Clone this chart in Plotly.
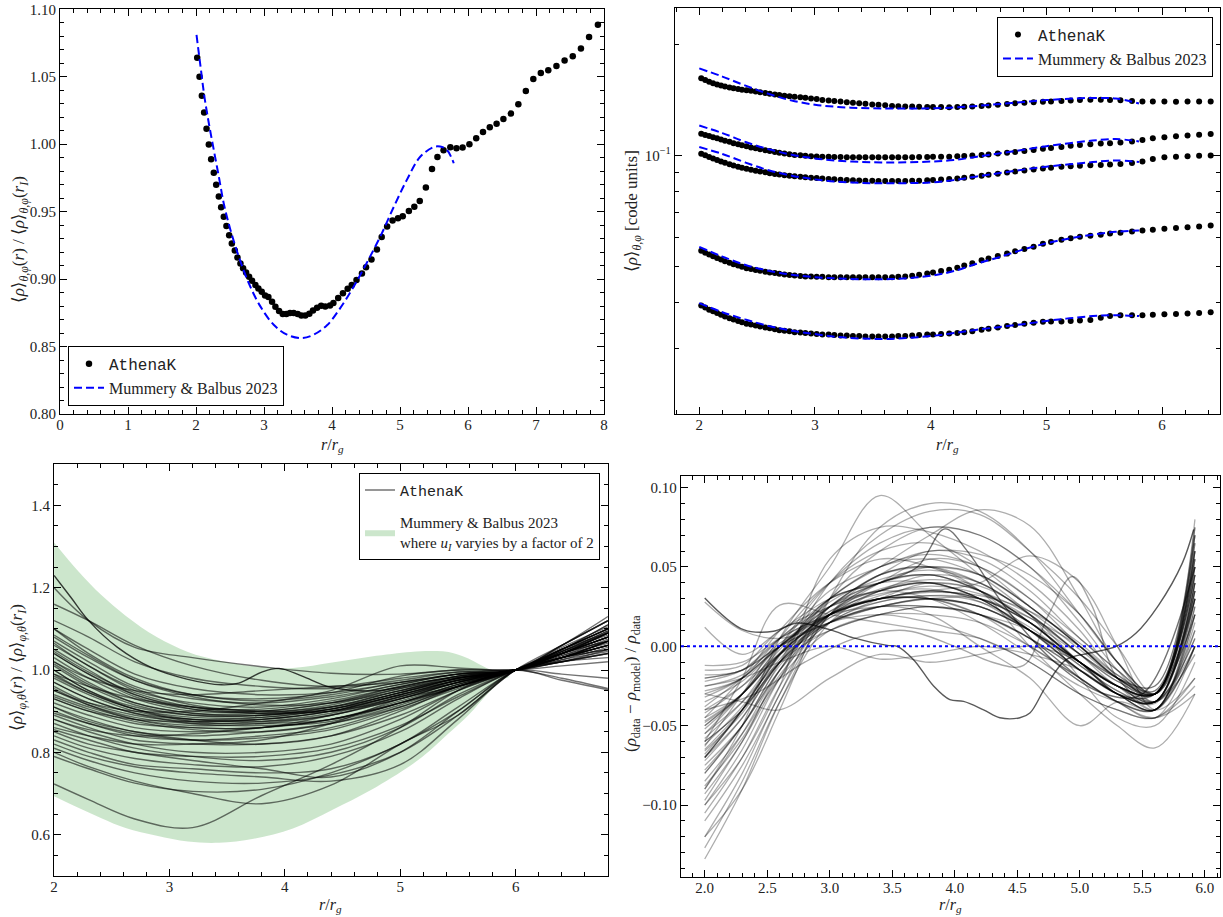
import plotly.graph_objects as go

SERIF = "Liberation Serif, DejaVu Serif, serif"
TXT = "#222222"

# ---------------- Panel (a): normalised radial density profile ----------------
R_DATA = [2.017, 2.051, 2.085, 2.119, 2.154, 2.188, 2.222, 2.261, 2.296, 2.335,
          2.369, 2.408, 2.447, 2.487, 2.526, 2.570, 2.609, 2.653, 2.692, 2.736,
          2.780, 2.824, 2.873, 2.917, 2.966, 3.015, 3.064, 3.118, 3.167, 3.221,
          3.275, 3.328, 3.382, 3.436, 3.495, 3.549, 3.607, 3.666, 3.72, 3.78,
          3.84, 3.90, 3.97, 4.02, 4.09, 4.16, 4.23, 4.29, 4.36, 4.44,
          4.50, 4.58, 4.66, 4.73, 4.81, 4.89, 4.97, 5.04, 5.13, 5.21,
          5.29, 5.38, 5.47, 5.55, 5.64, 5.74, 5.83, 5.92, 6.02, 6.12,
          6.22, 6.32, 6.42, 6.52, 6.63, 6.74, 6.85, 6.96, 7.07, 7.18,
          7.30, 7.42, 7.54, 7.66, 7.78, 7.91]
RHO_NORM = [1.0642, 1.0501, 1.0360, 1.0235, 1.0114, 0.9998, 0.9889, 0.9788, 0.9699, 0.9612,
            0.9533, 0.9462, 0.9393, 0.9326, 0.9264, 0.9212, 0.9160, 0.9116, 0.9081, 0.9049,
            0.9017, 0.8988, 0.8956, 0.8931, 0.8906, 0.8879, 0.8867, 0.8832, 0.8795, 0.8763,
            0.8741, 0.8741, 0.8748, 0.8748, 0.8741, 0.8731, 0.8731, 0.8743, 0.8768, 0.8788,
            0.8802, 0.8798, 0.8805, 0.8823, 0.8860, 0.8896, 0.8928, 0.8956, 0.8993, 0.9042,
            0.9089, 0.9146, 0.9220, 0.9312, 0.9390, 0.9435, 0.9452, 0.9467, 0.9506, 0.9536,
            0.9580, 0.9679, 0.9817, 0.9906, 0.9956, 0.9978, 0.9970, 0.9975, 1.0000, 1.0044,
            1.0091, 1.0126, 1.0151, 1.0188, 1.0227, 1.0296, 1.0395, 1.0484, 1.0528, 1.0548,
            1.0580, 1.0620, 1.0652, 1.0709, 1.0795, 1.0886]
R_MODEL = [2.007, 2.066, 2.124, 2.188, 2.26, 2.335, 2.408, 2.506, 2.628, 2.775,
           2.946, 3.142, 3.338, 3.558, 3.73, 3.93, 4.12, 4.32, 4.51, 4.71,
           4.91, 5.10, 5.30, 5.50, 5.59, 5.69, 5.79]
RHO_MODEL_NORM = [1.081, 1.0575, 1.035, 1.0156, 0.996, 0.976, 0.956, 0.9365, 0.9168, 0.897,
                  0.8798, 0.8662, 0.8588, 0.8563, 0.8588, 0.866, 0.8785, 0.8946, 0.912, 0.9316,
                  0.9538, 0.9736, 0.9909, 0.998, 0.9983, 0.9958, 0.9859]

# ---------------- Panel (b): absolute density profiles (log) ----------------
N_B = 73  # dots shown up to r = 6.42
RHO_B1 = [0.1618, 0.1600, 0.1583, 0.1568, 0.1556, 0.1546, 0.1537, 0.1528, 0.1520, 0.1512,
          0.1506, 0.1501, 0.1496, 0.1490, 0.1483, 0.1475, 0.1468, 0.1462, 0.1457, 0.1452,
          0.1447, 0.1443, 0.1438, 0.1433, 0.1427, 0.1421, 0.1414, 0.1409, 0.1404, 0.1399,
          0.1394, 0.1389, 0.1384, 0.1380, 0.1375, 0.1371, 0.1367, 0.1362, 0.1359, 0.1357,
          0.1356, 0.1355, 0.1353, 0.1353, 0.1352, 0.1351, 0.1352, 0.1354, 0.1357, 0.1361,
          0.1365, 0.1371, 0.1378, 0.1384, 0.1389, 0.1393, 0.1397, 0.1400, 0.1405, 0.1409,
          0.1413, 0.1415, 0.1415, 0.1414, 0.1410, 0.1404, 0.1400, 0.1399, 0.1399, 0.1398,
          0.1399, 0.1399, 0.1399]
RHO_B2 = [0.1145, 0.1137, 0.1129, 0.1121, 0.1113, 0.1105, 0.1097, 0.1089, 0.1080, 0.1073,
          0.1066, 0.1059, 0.1052, 0.1046, 0.1040, 0.1034, 0.1028, 0.1022, 0.1017, 0.1012,
          0.1008, 0.1004, 0.1001, 0.0998, 0.0996, 0.0994, 0.0993, 0.0992, 0.0991, 0.0991,
          0.0990, 0.0990, 0.0990, 0.0990, 0.0990, 0.0990, 0.0990, 0.0990, 0.0990, 0.0990,
          0.0990, 0.0991, 0.0991, 0.0992, 0.0992, 0.0993, 0.0995, 0.0997, 0.1000, 0.1004,
          0.1007, 0.1012, 0.1017, 0.1022, 0.1028, 0.1035, 0.1043, 0.1048, 0.1055, 0.1062,
          0.1068, 0.1072, 0.1077, 0.1080, 0.1085, 0.1092, 0.1102, 0.1113, 0.1121, 0.1127,
          0.1132, 0.1138, 0.1143]
RHO_B3 = [0.1011, 0.1001, 0.0991, 0.0982, 0.0973, 0.0964, 0.0956, 0.0947, 0.0940, 0.0933,
          0.0927, 0.0921, 0.0915, 0.0910, 0.0906, 0.0901, 0.0896, 0.0892, 0.0888, 0.0885,
          0.0882, 0.0879, 0.0876, 0.0873, 0.0871, 0.0869, 0.0867, 0.0864, 0.0862, 0.0860,
          0.0859, 0.0857, 0.0856, 0.0855, 0.0854, 0.0853, 0.0853, 0.0853, 0.0853, 0.0853,
          0.0854, 0.0855, 0.0857, 0.0859, 0.0861, 0.0864, 0.0867, 0.0871, 0.0876, 0.0882,
          0.0887, 0.0893, 0.0899, 0.0905, 0.0911, 0.0917, 0.0923, 0.0927, 0.0932, 0.0936,
          0.0939, 0.0941, 0.0943, 0.0945, 0.0948, 0.0954, 0.0963, 0.0979, 0.0989, 0.0993,
          0.0996, 0.0998, 0.1000]
RHO_B4 = [0.0553, 0.0546, 0.0540, 0.0534, 0.0528, 0.0523, 0.0518, 0.0513, 0.0508, 0.0504,
          0.0500, 0.0496, 0.0493, 0.0490, 0.0488, 0.0485, 0.0483, 0.0481, 0.0479, 0.0477,
          0.0475, 0.0474, 0.0472, 0.0471, 0.0471, 0.0470, 0.0470, 0.0469, 0.0469, 0.0469,
          0.0469, 0.0469, 0.0469, 0.0469, 0.0469, 0.0469, 0.0469, 0.0469, 0.0470, 0.0471,
          0.0473, 0.0476, 0.0480, 0.0483, 0.0487, 0.0491, 0.0497, 0.0504, 0.0511, 0.0521,
          0.0527, 0.0535, 0.0543, 0.0551, 0.0559, 0.0567, 0.0577, 0.0584, 0.0592, 0.0597,
          0.0603, 0.0607, 0.0611, 0.0615, 0.0618, 0.0623, 0.0627, 0.0630, 0.0634, 0.0637,
          0.0640, 0.0643, 0.0647]
RHO_B5 = [0.0393, 0.0388, 0.0383, 0.0379, 0.0375, 0.0371, 0.0367, 0.0363, 0.0360, 0.0357,
          0.0354, 0.0351, 0.0349, 0.0347, 0.0345, 0.0343, 0.0341, 0.0339, 0.0337, 0.0336,
          0.0335, 0.0333, 0.0332, 0.0331, 0.0330, 0.0329, 0.0328, 0.0328, 0.0327, 0.0326,
          0.0326, 0.0325, 0.0325, 0.0324, 0.0324, 0.0324, 0.0324, 0.0324, 0.0325, 0.0325,
          0.0326, 0.0327, 0.0328, 0.0328, 0.0329, 0.0330, 0.0331, 0.0333, 0.0335, 0.0338,
          0.0340, 0.0343, 0.0346, 0.0348, 0.0351, 0.0353, 0.0355, 0.0356, 0.0356, 0.0357,
          0.0358, 0.0359, 0.0364, 0.0368, 0.0370, 0.0370, 0.0370, 0.0371, 0.0372, 0.0373,
          0.0374, 0.0375, 0.0377]
MODEL_X = [2.0, 2.2, 2.4, 2.6, 2.8, 3.0, 3.2, 3.4, 3.6, 3.8,
           4.0, 4.2, 4.4, 4.6, 4.8, 5.0, 5.2, 5.4, 5.6, 5.8]
MODEL_B1 = [0.172, 0.1635, 0.1545, 0.1468, 0.1408, 0.1372, 0.1353, 0.1344, 0.1340, 0.1340,
            0.1342, 0.1348, 0.1362, 0.1378, 0.1395, 0.1412, 0.1424, 0.1431, 0.1426, 0.1383]
MODEL_B2 = [0.1205, 0.1150, 0.1088, 0.1040, 0.1005, 0.0982, 0.0968, 0.0961, 0.0958, 0.0959,
            0.0963, 0.0972, 0.0993, 0.1014, 0.1036, 0.1060, 0.1080, 0.1098, 0.1108, 0.1092]
MODEL_B3 = [0.1054, 0.1010, 0.0957, 0.0912, 0.0882, 0.0862, 0.0849, 0.0843, 0.0841, 0.0842,
            0.0845, 0.0858, 0.0878, 0.0897, 0.0916, 0.0933, 0.0947, 0.0960, 0.0970, 0.0960]
MODEL_B4 = [0.0566, 0.0533, 0.0506, 0.0488, 0.0476, 0.0469, 0.0465, 0.0463, 0.0463, 0.0466,
            0.0473, 0.0487, 0.0510, 0.0532, 0.0557, 0.0579, 0.0597, 0.0611, 0.0622, 0.0627]
MODEL_B5 = [0.0399, 0.0377, 0.0360, 0.0346, 0.0336, 0.0329, 0.0323, 0.0320, 0.0319, 0.0321,
            0.0325, 0.0331, 0.0338, 0.0344, 0.0350, 0.0357, 0.0363, 0.0368, 0.0370, 0.0368]
LOG_MINOR = [0.02, 0.03, 0.04, 0.05, 0.06, 0.07, 0.08, 0.09, 0.2]

# ---------------- Panel (c): many snapshots normalised at r_I ----------------
BAND_X = [2.0, 2.21, 2.41, 2.62, 2.89, 3.16, 3.43, 3.73, 4.07, 4.41,
          4.75, 5.09, 5.26, 5.42, 5.59, 5.76, 5.90, 5.95]
BAND_UPPER = [1.310, 1.240, 1.182, 1.132, 1.080, 1.044, 1.023, 1.009, 1.005, 1.018,
              1.033, 1.044, 1.046, 1.044, 1.028, 1.003, 0.988, 0.983]
BAND_LOWER = [0.693, 0.665, 0.640, 0.616, 0.597, 0.583, 0.580, 0.590, 0.615, 0.660,
              0.709, 0.768, 0.805, 0.846, 0.890, 0.943, 0.978, 0.983]
BL_X = [2.0, 2.3, 2.7, 3.2, 3.8, 4.4, 5.0, 5.5, 6.0, 6.4, 6.8]
BL_CURVES = [
    [0.723, 0.685, 0.638, 0.617, 0.695, 0.770, 0.860, 0.950, 1.0, 0.975, 0.952],
    [0.790, 0.760, 0.725, 0.705, 0.710, 0.750, 0.820, 0.900, 1.0, 1.020, 1.040],
    [0.800, 0.765, 0.730, 0.700, 0.675, 0.720, 0.820, 0.890, 1.0, 1.030, 1.060],
    [0.830, 0.800, 0.770, 0.760, 0.750, 0.760, 0.820, 0.910, 1.0, 1.040, 1.080],
    [0.840, 0.810, 0.785, 0.770, 0.765, 0.790, 0.850, 0.930, 1.0, 1.030, 1.070],
    [0.850, 0.820, 0.800, 0.780, 0.760, 0.740, 0.800, 0.900, 1.0, 1.050, 1.100],
    [0.870, 0.840, 0.810, 0.790, 0.780, 0.800, 0.860, 0.940, 1.0, 1.040, 1.090],
    [0.880, 0.850, 0.820, 0.800, 0.800, 0.820, 0.880, 0.950, 1.0, 1.030, 1.060],
    [0.890, 0.860, 0.830, 0.820, 0.820, 0.840, 0.890, 0.950, 1.0, 1.040, 1.080],
    [0.900, 0.870, 0.840, 0.830, 0.840, 0.860, 0.910, 0.960, 1.0, 1.020, 1.050],
    [0.910, 0.880, 0.850, 0.840, 0.850, 0.870, 0.910, 0.960, 1.0, 1.040, 1.080],
    [0.920, 0.890, 0.860, 0.850, 0.860, 0.880, 0.920, 0.960, 1.0, 1.030, 1.070],
    [0.930, 0.900, 0.870, 0.860, 0.860, 0.890, 0.930, 0.970, 1.0, 1.030, 1.060],
    [0.940, 0.910, 0.880, 0.865, 0.870, 0.890, 0.930, 0.970, 1.0, 1.040, 1.090],
    [0.950, 0.915, 0.885, 0.870, 0.875, 0.895, 0.935, 0.970, 1.0, 1.030, 1.050],
    [0.960, 0.920, 0.890, 0.875, 0.880, 0.900, 0.940, 0.975, 1.0, 1.040, 1.080],
    [0.970, 0.930, 0.895, 0.880, 0.880, 0.900, 0.940, 0.975, 1.0, 1.030, 1.060],
    [0.980, 0.940, 0.900, 0.880, 0.885, 0.905, 0.945, 0.975, 1.0, 1.020, 1.040],
    [0.990, 0.945, 0.905, 0.885, 0.885, 0.905, 0.945, 0.980, 1.0, 1.040, 1.090],
    [1.000, 0.950, 0.910, 0.890, 0.890, 0.910, 0.950, 0.980, 1.0, 1.030, 1.070],
    [1.010, 0.960, 0.915, 0.890, 0.890, 0.910, 0.950, 0.980, 1.0, 1.050, 1.110],
    [1.020, 0.970, 0.920, 0.895, 0.895, 0.915, 0.955, 0.980, 1.0, 1.040, 1.080],
    [1.030, 0.980, 0.930, 0.900, 0.900, 0.920, 0.955, 0.985, 1.0, 1.030, 1.060],
    [1.040, 0.990, 0.935, 0.905, 0.900, 0.920, 0.960, 0.985, 1.0, 1.050, 1.100],
    [1.050, 1.000, 0.940, 0.910, 0.905, 0.925, 0.960, 0.985, 1.0, 1.040, 1.070],
    [1.060, 1.010, 0.950, 0.920, 0.910, 0.930, 0.965, 0.990, 1.0, 1.060, 1.120],
    [1.070, 1.020, 0.960, 0.930, 0.920, 0.935, 0.965, 0.990, 1.0, 1.030, 1.050],
    [1.080, 1.030, 0.975, 0.940, 0.925, 0.940, 0.970, 0.990, 1.0, 1.050, 1.090],
    [1.100, 1.050, 0.990, 0.955, 0.940, 0.945, 0.970, 0.990, 1.0, 1.040, 1.070],
    [1.120, 1.080, 1.020, 0.980, 0.960, 0.955, 0.975, 0.995, 1.0, 1.060, 1.130],
    [1.160, 1.120, 1.060, 1.010, 0.975, 0.960, 0.980, 0.995, 1.0, 1.050, 1.100],
    [1.200, 1.120, 1.055, 1.030, 1.008, 0.992, 0.990, 1.000, 1.0, 1.020, 1.040],
    [0.950, 0.920, 0.900, 0.900, 0.920, 0.950, 1.010, 1.005, 1.0, 1.020, 1.030],
    [0.860, 0.840, 0.820, 0.820, 0.830, 0.870, 0.930, 0.960, 1.0, 1.050, 1.100],
    [0.990, 0.960, 0.930, 0.910, 0.900, 0.900, 0.930, 0.970, 1.0, 0.990, 0.980],
    [0.930, 0.900, 0.880, 0.875, 0.880, 0.900, 0.940, 0.970, 1.0, 1.060, 1.120],
    [1.040, 0.990, 0.940, 0.905, 0.895, 0.905, 0.940, 0.975, 1.0, 1.045, 1.090],
    [0.970, 0.930, 0.895, 0.870, 0.865, 0.875, 0.920, 0.965, 1.0, 1.050, 1.100],
    [1.000, 0.950, 0.905, 0.875, 0.870, 0.880, 0.920, 0.965, 1.0, 1.040, 1.080],
    [0.910, 0.875, 0.850, 0.830, 0.820, 0.840, 0.900, 0.960, 1.0, 1.030, 1.070],
    [0.820, 0.790, 0.765, 0.750, 0.740, 0.730, 0.770, 0.880, 1.0, 1.040, 1.090],
    [1.100, 1.040, 0.980, 0.940, 0.930, 0.945, 0.985, 1.000, 1.0, 1.010, 1.020],
    [1.020, 0.980, 0.950, 0.940, 0.950, 0.960, 0.970, 0.990, 1.0, 0.980, 0.955],
    [0.880, 0.855, 0.840, 0.845, 0.860, 0.880, 0.920, 0.960, 1.0, 1.050, 1.110],
    [0.955, 0.915, 0.880, 0.860, 0.860, 0.880, 0.925, 0.965, 1.0, 1.035, 1.075],
    [1.015, 0.965, 0.920, 0.895, 0.890, 0.905, 0.945, 0.980, 1.0, 1.045, 1.095],
    [0.935, 0.905, 0.875, 0.855, 0.850, 0.870, 0.915, 0.960, 1.0, 1.025, 1.055],
    [1.065, 1.010, 0.955, 0.915, 0.900, 0.910, 0.945, 0.980, 1.0, 1.055, 1.105],
    [0.985, 0.945, 0.905, 0.880, 0.875, 0.890, 0.935, 0.970, 1.0, 1.035, 1.065],
    [0.895, 0.870, 0.845, 0.830, 0.835, 0.855, 0.905, 0.955, 1.0, 1.045, 1.095],
    [1.045, 0.995, 0.945, 0.910, 0.895, 0.900, 0.935, 0.975, 1.0, 1.025, 1.045],
    [0.810, 0.780, 0.750, 0.730, 0.725, 0.745, 0.800, 0.890, 1.0, 1.060, 1.120],
    [0.855, 0.830, 0.800, 0.790, 0.790, 0.810, 0.865, 0.935, 1.0, 1.040, 1.080],
    [1.085, 1.035, 0.975, 0.935, 0.915, 0.920, 0.950, 0.985, 1.0, 1.045, 1.085],
]
BL_BUMP_X = [2.0, 2.15, 2.3, 2.55, 2.85, 3.15, 3.45, 3.6, 3.8, 3.95,
             4.15, 4.4, 4.8, 5.3, 6.0, 6.4, 6.8]
BL_BUMP_Y = [1.23, 1.175, 1.12, 1.055, 1.005, 0.978, 0.964, 0.968, 0.995, 1.004,
             0.985, 0.958, 0.95, 0.975, 1.0, 1.03, 1.06]

# ---------------- Panel (d): relative residuals ----------------
BR_X = [2.0, 2.3, 2.6, 3.0, 3.4, 3.8, 4.2, 4.6, 5.0, 5.3, 5.6, 5.92]
BR_CURVES = [
    [-0.090, -0.050, 0.005, 0.050, 0.095, 0.070, 0.045, 0.020, -0.020, -0.045, -0.050, -0.010],
    [-0.120, -0.090, -0.040, 0.030, 0.075, 0.090, 0.085, 0.060, 0.020, -0.010, -0.030, 0.020],
    [-0.060, -0.040, -0.010, 0.030, 0.050, 0.070, 0.086, 0.076, 0.030, -0.010, -0.030, 0.020],
    [-0.100, -0.070, -0.025, 0.055, 0.075, 0.072, 0.060, 0.040, 0.010, -0.020, -0.040, 0.000],
    [-0.080, -0.050, -0.010, 0.040, 0.070, 0.085, 0.083, 0.060, 0.030, 0.000, -0.030, 0.030],
    [-0.050, -0.030, -0.005, 0.020, 0.030, 0.035, 0.040, 0.057, 0.040, 0.000, -0.040, -0.020],
    [-0.030, -0.020, 0.000, 0.025, 0.045, 0.050, 0.035, 0.000, -0.030, -0.050, -0.064, -0.030],
    [-0.020, -0.015, 0.000, 0.015, 0.025, 0.020, 0.000, -0.020, -0.050, -0.035, -0.040, 0.000],
    [-0.134, -0.090, -0.035, 0.020, 0.040, 0.045, 0.035, 0.015, -0.010, -0.030, -0.035, 0.030],
    [-0.127, -0.085, -0.035, 0.015, 0.035, 0.040, 0.030, 0.010, -0.015, -0.030, -0.040, 0.020],
    [-0.120, -0.080, -0.030, 0.020, 0.045, 0.050, 0.040, 0.020, -0.010, -0.025, -0.030, 0.045],
    [-0.105, -0.070, -0.025, 0.020, 0.040, 0.045, 0.035, 0.015, -0.010, -0.025, -0.030, 0.050],
    [-0.100, -0.065, -0.020, 0.025, 0.035, 0.040, 0.030, 0.010, -0.015, -0.030, -0.035, 0.040],
    [-0.097, -0.060, -0.020, 0.020, 0.030, 0.035, 0.030, 0.015, -0.010, -0.030, -0.030, 0.060],
    [-0.093, -0.060, -0.015, 0.025, 0.040, 0.050, 0.045, 0.025, 0.000, -0.020, -0.025, 0.070],
    [-0.090, -0.055, -0.015, 0.020, 0.030, 0.030, 0.025, 0.010, -0.015, -0.030, -0.035, 0.035],
    [-0.075, -0.050, -0.015, 0.015, 0.030, 0.040, 0.035, 0.015, -0.010, -0.025, -0.030, 0.080],
    [-0.072, -0.045, -0.010, 0.020, 0.035, 0.045, 0.040, 0.020, -0.005, -0.025, -0.030, 0.065],
    [-0.070, -0.045, -0.010, 0.015, 0.025, 0.030, 0.025, 0.010, -0.010, -0.025, -0.030, 0.055],
    [-0.068, -0.040, -0.005, 0.020, 0.030, 0.035, 0.030, 0.015, -0.005, -0.020, -0.025, 0.075],
    [-0.065, -0.040, -0.010, 0.020, 0.040, 0.055, 0.050, 0.030, 0.000, -0.020, -0.030, 0.060],
    [-0.060, -0.040, -0.010, 0.015, 0.025, 0.025, 0.020, 0.005, -0.020, -0.035, -0.040, 0.020],
    [-0.058, -0.035, -0.005, 0.020, 0.035, 0.040, 0.035, 0.015, -0.010, -0.025, -0.035, 0.045],
    [-0.055, -0.035, -0.010, 0.010, 0.020, 0.025, 0.020, 0.005, -0.015, -0.030, -0.040, 0.030],
    [-0.050, -0.030, -0.005, 0.020, 0.030, 0.030, 0.025, 0.010, -0.010, -0.025, -0.030, 0.055],
    [-0.048, -0.030, 0.000, 0.025, 0.040, 0.045, 0.035, 0.020, -0.005, -0.020, -0.030, 0.070],
    [-0.045, -0.030, -0.005, 0.015, 0.025, 0.030, 0.025, 0.010, -0.010, -0.025, -0.040, 0.010],
    [-0.042, -0.025, 0.000, 0.020, 0.030, 0.035, 0.030, 0.015, -0.010, -0.025, -0.035, 0.040],
    [-0.040, -0.025, -0.005, 0.010, 0.020, 0.020, 0.015, 0.000, -0.020, -0.035, -0.045, -0.030],
    [-0.038, -0.020, 0.000, 0.025, 0.045, 0.050, 0.045, 0.025, 0.000, -0.020, -0.030, 0.050],
    [-0.030, -0.035, -0.040, -0.020, -0.005, -0.010, -0.005, 0.000, -0.010, -0.030, -0.035, 0.000],
    [-0.032, -0.020, 0.000, 0.020, 0.030, 0.030, 0.020, 0.005, -0.015, -0.030, -0.040, 0.025],
    [-0.028, -0.020, 0.005, 0.025, 0.035, 0.040, 0.030, 0.010, -0.010, -0.025, -0.035, 0.035],
    [-0.025, -0.020, -0.010, 0.000, -0.008, -0.005, 0.000, -0.005, -0.015, -0.030, -0.035, 0.005],
    [-0.022, -0.015, 0.005, 0.020, 0.030, 0.030, 0.020, 0.000, -0.020, -0.035, -0.040, 0.015],
    [-0.020, -0.015, 0.000, 0.015, 0.020, 0.015, 0.005, -0.010, -0.030, -0.040, -0.045, -0.025],
    [-0.018, -0.015, 0.005, 0.030, 0.050, 0.055, 0.045, 0.025, 0.000, -0.020, -0.030, 0.060],
    [-0.015, -0.012, 0.010, 0.025, 0.035, 0.030, 0.015, -0.005, -0.025, -0.035, -0.040, 0.000],
    [-0.012, -0.010, 0.005, 0.020, 0.025, 0.025, 0.020, 0.010, -0.010, -0.030, -0.035, 0.030],
    [0.012, -0.005, 0.010, 0.030, 0.040, 0.040, 0.030, 0.010, -0.010, -0.030, -0.030, 0.045],
    [0.028, 0.010, 0.005, 0.015, 0.025, 0.030, 0.030, 0.015, -0.010, -0.025, -0.030, 0.030],
    [-0.060, -0.020, 0.026, 0.020, 0.015, 0.010, 0.005, -0.010, -0.030, -0.040, -0.045, -0.020],
    [-0.085, -0.055, -0.020, 0.010, 0.020, 0.025, 0.020, 0.005, -0.020, -0.035, -0.045, 0.000],
    [-0.080, -0.050, -0.015, 0.025, 0.045, 0.060, 0.055, 0.035, 0.005, -0.015, -0.030, 0.055],
    [-0.063, -0.030, 0.005, 0.040, 0.060, 0.065, 0.050, 0.025, 0.000, -0.020, -0.035, 0.040],
    [-0.045, -0.020, 0.010, 0.040, 0.055, 0.050, 0.035, 0.010, -0.015, -0.030, -0.040, 0.025],
    [-0.110, -0.075, -0.030, 0.030, 0.060, 0.075, 0.070, 0.050, 0.020, -0.010, -0.035, 0.010],
    [-0.055, -0.030, 0.000, 0.035, 0.050, 0.060, 0.058, 0.045, 0.020, -0.010, -0.030, 0.035],
    [-0.070, -0.040, 0.000, 0.040, 0.065, 0.075, 0.070, 0.050, 0.015, -0.015, -0.035, 0.005],
    [-0.052, -0.030, -0.002, 0.028, 0.042, 0.048, 0.040, 0.020, -0.005, -0.022, -0.030, 0.060],
    [-0.066, -0.042, -0.008, 0.022, 0.036, 0.042, 0.038, 0.022, -0.002, -0.020, -0.028, 0.070],
    [-0.035, -0.022, 0.000, 0.022, 0.033, 0.036, 0.028, 0.010, -0.012, -0.028, -0.036, 0.035],
    [-0.078, -0.050, -0.012, 0.018, 0.032, 0.038, 0.033, 0.018, -0.005, -0.022, -0.030, 0.075],
    [-0.047, -0.030, -0.004, 0.018, 0.028, 0.032, 0.030, 0.018, 0.000, -0.018, -0.028, 0.065],
    [-0.062, -0.038, -0.006, 0.030, 0.050, 0.058, 0.050, 0.030, 0.005, -0.015, -0.030, 0.045],
    [-0.025, -0.018, 0.002, 0.020, 0.030, 0.034, 0.032, 0.022, 0.002, -0.018, -0.030, 0.050],
    [-0.088, -0.058, -0.018, 0.015, 0.028, 0.032, 0.028, 0.012, -0.012, -0.028, -0.035, 0.040],
]
BR_DARK_X = [2.0, 2.31, 2.55, 2.74, 3.0, 3.19, 3.46, 3.54, 3.67, 3.83, 3.96, 4.07,
             4.23, 4.36, 4.52, 4.60, 4.73, 4.89, 5.08, 5.29, 5.45, 5.63, 5.82, 5.91]
BR_DARK_Y = [0.0305, 0.0105, 0.0095, 0.0147, 0.0105, 0.0053, 0.0006, 0.0, -0.0084, -0.025,
             -0.0336, -0.0347, -0.040, -0.045, -0.045, -0.042, -0.025, -0.0084, -0.0042, 0.0,
             0.0084, 0.026, 0.0526, 0.0736]
BR_SPIKE_X = [2.0, 2.3, 2.6, 3.0, 3.4, 3.7, 3.92, 4.1, 4.4, 4.8, 5.2, 5.5, 5.92]
BR_SPIKE_Y = [-0.07, -0.04, -0.005, 0.03, 0.04, 0.05, 0.074, 0.06, 0.025, -0.01, -0.03, -0.03, 0.05]
BR_LATE_X = [2.0, 2.4, 2.8, 3.2, 3.6, 4.0, 4.3, 4.55, 4.75, 4.94, 5.1, 5.3, 5.6, 5.92]
BR_LATE_Y = [-0.04, -0.03, -0.01, 0.005, 0.01, 0.0, -0.01, -0.012, 0.02, 0.044, 0.025, -0.02, -0.035, -0.005]
ZERO_LEVEL = 0.0

LEG_MB = "Mummery & Balbus 2023"
LEG_ATH = "<span style='font-family:Liberation Mono, DejaVu Sans Mono, monospace'>AthenaK</span>"
DASH = "8px,4px"

fig = go.Figure()

# ---- panel (a)
fig.add_trace(go.Scatter(x=R_DATA, y=RHO_NORM, mode="markers", name=LEG_ATH,
                         marker=dict(color="black", size=6.5), xaxis="x", yaxis="y",
                         legend="legend"))
fig.add_trace(go.Scatter(x=R_MODEL, y=RHO_MODEL_NORM, mode="lines", name=LEG_MB,
                         line=dict(color="#0000ff", width=2, dash=DASH, shape="spline"),
                         xaxis="x", yaxis="y", legend="legend"))

# ---- panel (b)
for k, ser in enumerate([RHO_B1, RHO_B2, RHO_B3, RHO_B4, RHO_B5]):
    fig.add_trace(go.Scatter(x=R_DATA[:N_B], y=ser, mode="markers", name=LEG_ATH,
                             marker=dict(color="black", size=6), showlegend=(k == 0),
                             xaxis="x2", yaxis="y2", legend="legend2"))
for k, ser in enumerate([MODEL_B1, MODEL_B2, MODEL_B3, MODEL_B4, MODEL_B5]):
    fig.add_trace(go.Scatter(x=MODEL_X, y=ser, mode="lines", name=LEG_MB,
                             line=dict(color="#0000ff", width=2, dash=DASH, shape="spline"),
                             showlegend=(k == 0), xaxis="x2", yaxis="y2", legend="legend2"))

# ---- panel (c)
band_x = BAND_X + BAND_X[::-1]
band_y = BAND_UPPER + BAND_LOWER[::-1]
fig.add_trace(go.Scatter(x=band_x, y=band_y, mode="lines", fill="toself",
                         fillcolor="rgba(0,128,0,0.2)",
                         line=dict(width=0, shape="spline", color="rgba(0,0,0,0)"),
                         name=LEG_MB + "<br>where <i>u<sub>I</sub></i> varyies by a factor of 2",
                         xaxis="x3", yaxis="y3", legend="legend3", legendrank=2))
first = True
for cur in BL_CURVES:
    fig.add_trace(go.Scatter(x=BL_X, y=cur, mode="lines", name=LEG_ATH,
                             line=dict(color="rgba(0,0,0,0.55)", width=1.4, shape="spline"),
                             showlegend=first, legendgroup="ath3", legendrank=1,
                             xaxis="x3", yaxis="y3", legend="legend3"))
    first = False
fig.add_trace(go.Scatter(x=BL_BUMP_X, y=BL_BUMP_Y, mode="lines", showlegend=False,
                         line=dict(color="rgba(0,0,0,0.75)", width=1.4, shape="spline"),
                         xaxis="x3", yaxis="y3"))

# ---- panel (d)
for cur in BR_CURVES:
    fig.add_trace(go.Scatter(x=BR_X, y=cur, mode="lines", showlegend=False,
                             line=dict(color="rgba(0,0,0,0.32)", width=1.3, shape="spline"),
                             xaxis="x4", yaxis="y4"))
for xs, ys, a in [(BR_SPIKE_X, BR_SPIKE_Y, 0.55), (BR_LATE_X, BR_LATE_Y, 0.35),
                  (BR_DARK_X, BR_DARK_Y, 0.65)]:
    fig.add_trace(go.Scatter(x=xs, y=ys, mode="lines", showlegend=False,
                             line=dict(color=f"rgba(0,0,0,{a})", width=1.4, shape="spline"),
                             xaxis="x4", yaxis="y4"))
fig.add_shape(type="line", xref="x4 domain", yref="y4", x0=0, x1=1, y0=ZERO_LEVEL, y1=ZERO_LEVEL,
              line=dict(color="#0000ff", width=2, dash="dot"))


def ax(domain, rng, dtick, minor_dtick, fmt=None, tick0=None, **kw):
    d = dict(domain=domain, range=rng, showline=True, linecolor="black", linewidth=1.2,
             mirror="ticks", ticks="inside", ticklen=7, tickwidth=1, tickcolor="black",
             showgrid=False, zeroline=False,
             tickfont=dict(family=SERIF, size=15, color=TXT),
             minor=dict(ticks="inside", ticklen=4, tickwidth=1, tickcolor="black",
                        dtick=minor_dtick, showgrid=False),
             automargin=False)
    if dtick is not None:
        d["dtick"] = dtick
    if tick0 is not None:
        d["tick0"] = tick0
    if fmt:
        d["tickformat"] = fmt
    d.update(kw)
    return d


W, H = 1223, 917
RX = "<i>r</i>/<i>r<sub>g</sub></i>"
TITLES = [
    (RX, 332, 446, 0),
    (RX, 947, 446, 0),
    (RX, 330, 905, 0),
    (RX, 950, 905, 0),
    ("⟨<i>ρ</i>⟩<sub><i>θ,φ</i></sub>(<i>r</i>) / ⟨<i>ρ</i>⟩<sub><i>θ,φ</i></sub>(<i>r<sub>I</sub></i>)", 20, 240, -90),
    ("⟨<i>ρ</i>⟩<sub><i>θ,φ</i></sub> [code units]", 633, 211, -90),
    ("⟨<i>ρ</i>⟩<sub><i>φ,θ</i></sub>(<i>r</i>) / ⟨<i>ρ</i>⟩<sub><i>φ,θ</i></sub>(<i>r<sub>I</sub></i>)", 18, 668, -90),
    ("(<i>ρ</i><sub>data</sub> − <i>ρ</i><sub>model</sub>) / <i>ρ</i><sub>data</sub>", 632, 684, -90),
]
annotations = [dict(text=t, x=px / W, y=1 - py / H, xref="paper", yref="paper",
                    xanchor="center", yanchor="middle", showarrow=False, textangle=ang,
                    font=dict(family=SERIF, size=17 if ang else 16, color=TXT))
               for t, px, py, ang in TITLES]

XSO = -3  # pull x tick labels a little closer to the axis

fig.update_layout(
    width=W, height=H, margin=dict(l=0, r=0, t=0, b=0),
    paper_bgcolor="white", plot_bgcolor="white",
    font=dict(family=SERIF, color=TXT),
    annotations=annotations,
    xaxis=ax([0.0491, 0.4939], [0, 8], 1, 0.2, anchor="y", ticklabelstandoff=XSO),
    yaxis=ax([0.5485, 0.9898], [0.80, 1.10], 0.05, 0.01, fmt=".2f", anchor="x"),
    xaxis2=ax([0.5519, 0.9975], [1.79, 6.5], 1, 0.2, anchor="y2", ticklabelstandoff=XSO),
    yaxis2=dict(ax([0.5485, 0.9909], [-1.699, -0.602], None, None, anchor="x2"),
                type="log", tickmode="array", tickvals=[0.1], ticktext=["10<sup>−1</sup>"],
                minor=dict(ticks="inside", ticklen=4, tickwidth=1, tickcolor="black",
                           tickmode="array", tickvals=LOG_MINOR, showgrid=False)),
    xaxis3=ax([0.0442, 0.4971], [2, 6.8], 1, 0.2, anchor="y3", ticklabelstandoff=XSO),
    yaxis3=ax([0.0450, 0.4937], [0.5, 1.5], 0.2, 0.05, fmt=".1f", tick0=0, anchor="x3"),
    xaxis4=ax([0.5568, 0.9975], [1.81, 6.12], 0.5, 0.1, fmt=".1f", anchor="y4",
              ticklabelstandoff=XSO),
    yaxis4=ax([0.0433, 0.4812], [-0.1455, 0.1075], 0.05, 0.01, fmt=".2f", tick0=0, anchor="x4"),
    legend=dict(x=0.0556, y=0.5573, xanchor="left", yanchor="bottom",
                bordercolor="black", borderwidth=1, bgcolor="white",
                font=dict(family=SERIF, size=16, color=TXT)),
    legend2=dict(x=0.9918, y=0.9818, xanchor="right", yanchor="top",
                 bordercolor="black", borderwidth=1, bgcolor="white",
                 font=dict(family=SERIF, size=16, color=TXT)),
    legend3=dict(x=0.4906, y=0.4845, xanchor="right", yanchor="top",
                 bordercolor="black", borderwidth=1, bgcolor="white",
                 font=dict(family=SERIF, size=15, color=TXT)),
)

fig.write_html("out.html", config={"displayModeBar": False},
               post_script="document.body.style.margin='0px';document.body.style.padding='0px';"
                           "document.body.style.overflow='hidden';")
